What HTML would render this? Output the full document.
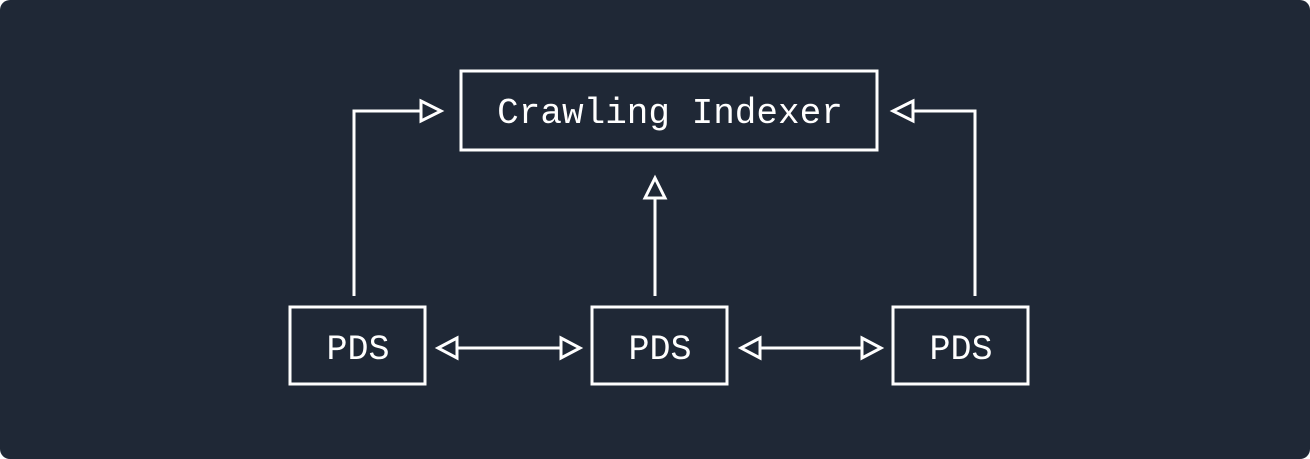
<!DOCTYPE html>
<html><head><style>
html,body{margin:0;padding:0;background:#fff;}
svg{display:block;}
text{font-family:"Liberation Mono",monospace;fill:#fff;}
</style></head><body>
<svg width="1310" height="459" viewBox="0 0 1310 459">
<rect x="0" y="0" width="1310" height="459" rx="10" fill="#1f2836"/>
<g fill="none" stroke="#fff" stroke-width="3" stroke-linejoin="miter">
<rect x="461" y="71" width="416" height="79"/>
<rect x="290" y="307" width="135" height="77"/>
<rect x="592" y="307" width="135" height="77"/>
<rect x="893" y="307" width="135" height="77"/>
<polyline points="354,296 354,111 421,111"/>
<polygon points="421,101 441,111 421,121"/>
<polyline points="975,296 975,111 913,111"/>
<polygon points="913,101 893,111 913,121"/>
<line x1="655" y1="296" x2="655" y2="198"/>
<polygon points="645,198 655,178 665,198"/>
<line x1="457" y1="348" x2="561" y2="348"/>
<polygon points="457,338 438,348 457,358"/>
<polygon points="561,338 580,348 561,358"/>
<line x1="760" y1="348" x2="862" y2="348"/>
<polygon points="760,338 741,348 760,358"/>
<polygon points="862,338 881,348 862,358"/>
</g>
<text x="670" y="123" font-size="36" text-anchor="middle">Crawling Indexer</text>
<text x="358" y="359" font-size="35" text-anchor="middle">PDS</text>
<text x="660" y="359" font-size="35" text-anchor="middle">PDS</text>
<text x="961" y="359" font-size="35" text-anchor="middle">PDS</text>
</svg>
</body></html>
